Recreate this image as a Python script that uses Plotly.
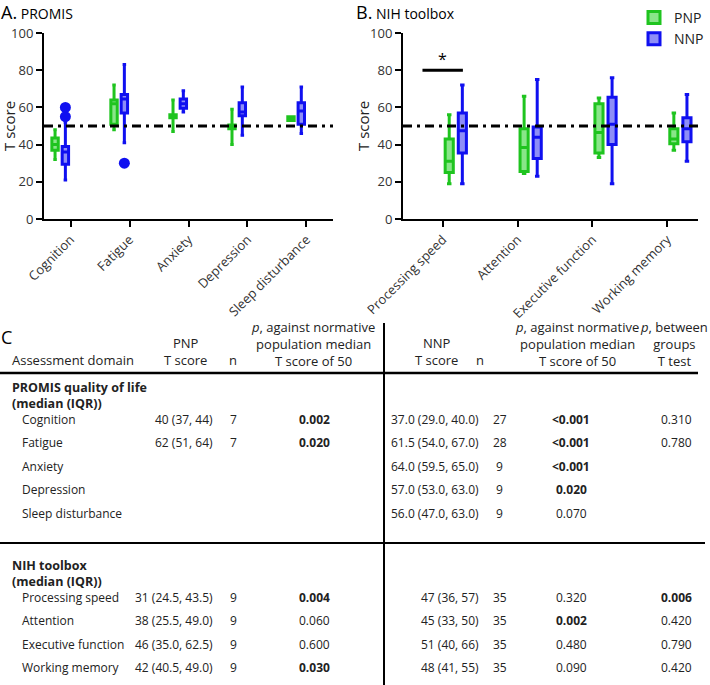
import plotly.graph_objects as go

W, H = 710, 685
FONT = "Open Sans"

# ---- panel A: PROMIS (box stats)
promis_domains = ["Cognition", "Fatigue", "Anxiety", "Depression", "Sleep disturbance"]
promis_pnp_low = [32, 48, 47, 40, 53]
promis_pnp_q1 = [37, 51, 54.5, 48.5, 53]
promis_pnp_med = [40, 62, 55, 49.5, 54]
promis_pnp_q3 = [43.5, 64, 56, 50.5, 55]
promis_pnp_high = [48, 72, 64, 59, 55]
promis_nnp_low = [21, 41, 57.5, 45, 46]
promis_nnp_q1 = [29.5, 57, 59.5, 55.5, 51]
promis_nnp_med = [36, 64.5, 62, 57.5, 58]
promis_nnp_q3 = [39, 67, 64.5, 62.5, 62.5]
promis_nnp_high = [52, 83, 69, 71, 71]
promis_nnp_outliers = [[60, 55], [30], [], [], []]

# ---- panel B: NIH toolbox
nih_domains = ["Processing speed", "Attention", "Executive function", "Working memory"]
nih_pnp_low = [19, 24.5, 33, 37]
nih_pnp_q1 = [25, 25.5, 35.5, 40.5]
nih_pnp_med = [31, 38.5, 46.5, 43]
nih_pnp_q3 = [43, 48.5, 62, 48.5]
nih_pnp_high = [56, 66, 65, 57]
nih_nnp_low = [19, 23, 19, 31]
nih_nnp_q1 = [35.5, 32.5, 40, 41.5]
nih_nnp_med = [47.5, 44, 51, 48.5]
nih_nnp_q3 = [57, 49.5, 65.5, 54.5]
nih_nnp_high = [72, 75, 76, 67]

norm_t = 50
sig_domain = "Processing speed"
sig_level = 80

# ---- panel C: table
section_titles = ["PROMIS quality of life<br>(median (IQR))", "NIH toolbox<br>(median (IQR))"]
table_domains = promis_domains + nih_domains
pnp_tscore = ["40 (37, 44)", "62 (51, 64)", "", "", "",
              "31 (24.5, 43.5)", "38 (25.5, 49.0)", "46 (35.0, 62.5)", "42 (40.5, 49.0)"]
pnp_n = ["7", "7", "", "", "", "9", "9", "9", "9"]
pnp_p = ["0.002", "0.020", "", "", "", "0.004", "0.060", "0.600", "0.030"]
nnp_tscore = ["37.0 (29.0, 40.0)", "61.5 (54.0, 67.0)", "64.0 (59.5, 65.0)", "57.0 (53.0, 63.0)",
              "56.0 (47.0, 63.0)", "47 (36, 57)", "45 (33, 50)", "51 (40, 66)", "48 (41, 55)"]
nnp_n = ["27", "28", "9", "9", "9", "35", "35", "35", "35"]
nnp_p = ["<0.001", "<0.001", "<0.001", "0.020", "0.070", "0.320", "0.002", "0.480", "0.090"]
between_p = ["0.310", "0.780", "", "", "", "0.006", "0.420", "0.790", "0.420"]

GREEN, GREEN_FILL = "#1fc41f", "rgba(40,210,40,0.55)"
BLUE, BLUE_FILL = "#1010f0", "rgba(30,30,240,0.5)"


def px(x):
    return x / W


def py(y):
    return 1 - y / H


fig = go.Figure()


def add_box(cats, low, q1, med, q3, high, name, line_c, fill_c, xa, ya, show, pts=None):
    fig.add_trace(go.Box(
        x=cats, q1=q1, median=med, q3=q3, lowerfence=low, upperfence=high,
        y=pts, boxpoints="outliers" if pts else False, pointpos=0, jitter=0,
        marker=dict(color=line_c, size=11, line=dict(width=0)),
        name=name, legendgroup=name, showlegend=show,
        line=dict(color=line_c, width=3), fillcolor=fill_c, whiskerwidth=0.55,
        xaxis=xa, yaxis=ya, hoverinfo="skip"))


add_box(promis_domains, promis_pnp_low, promis_pnp_q1, promis_pnp_med, promis_pnp_q3,
        promis_pnp_high, "PNP", GREEN, GREEN_FILL, "x", "y", False)
add_box(promis_domains, promis_nnp_low, promis_nnp_q1, promis_nnp_med, promis_nnp_q3,
        promis_nnp_high, "NNP", BLUE, BLUE_FILL, "x", "y", False, promis_nnp_outliers)
add_box(nih_domains, nih_pnp_low, nih_pnp_q1, nih_pnp_med, nih_pnp_q3,
        nih_pnp_high, "PNP", GREEN, GREEN_FILL, "x2", "y2", True)
add_box(nih_domains, nih_nnp_low, nih_nnp_q1, nih_nnp_med, nih_nnp_q3,
        nih_nnp_high, "NNP", BLUE, BLUE_FILL, "x2", "y2", True)

axis_common = dict(showline=True, linecolor="black", linewidth=2, ticks="outside",
                   ticklen=6, tickwidth=2, tickcolor="black", showgrid=False,
                   zeroline=False, automargin=False,
                   tickfont=dict(family=FONT, size=13, color="#333"))
ydom = [py(219), py(33)]
fig.update_layout(
    width=W, height=H, margin=dict(l=0, r=0, t=0, b=0, pad=0, autoexpand=False),
    paper_bgcolor="white", plot_bgcolor="white",
    boxmode="group", boxgap=0.3, boxgroupgap=0.38,
    font=dict(family=FONT, color="#222"),
    xaxis=dict(domain=[px(44), px(333)], anchor="y", type="category", tickangle=-45,
               range=[-0.45, 4.45], **axis_common),
    yaxis=dict(domain=ydom, anchor="x", range=[0, 100], dtick=20, **axis_common),
    xaxis2=dict(domain=[px(403), px(698)], anchor="y2", type="category", tickangle=-45,
                range=[-0.53, 3.41], **axis_common),
    yaxis2=dict(domain=ydom, anchor="x2", range=[0, 100], dtick=20, **axis_common),
    legend=dict(x=px(634), y=py(2), xanchor="left", yanchor="top", tracegroupgap=0,
                font=dict(family=FONT, size=14, color="#222"), bgcolor="rgba(0,0,0,0)",
                itemwidth=30),
)

# normative median line
for xr, yr in (("x domain", "y"), ("x2 domain", "y2")):
    fig.add_shape(type="line", xref=xr, yref=yr, x0=0, x1=1, y0=norm_t, y1=norm_t,
                  line=dict(color="black", width=3, dash="9px,5px,3px,5px"))

# significance bar
sig_i = nih_domains.index(sig_domain)
fig.add_shape(type="line", xref="x2", yref="y2", x0=sig_i - 0.27, x1=sig_i + 0.27,
              y0=sig_level, y1=sig_level, line=dict(color="black", width=3))
fig.add_annotation(x=sig_domain, y=sig_level, xref="x2", yref="y2", text="*", showarrow=False,
                   yanchor="bottom", yshift=-2, font=dict(size=16, color="black"))


def txt(x, y, s, anchor="center", bold=False, size=12, color="#222", angle=0):
    if bold:
        s = f"<b>{s}</b>"
    fig.add_annotation(x=px(x), y=py(y), xref="paper", yref="paper", text=s, showarrow=False,
                       xanchor=anchor, yanchor="middle", textangle=angle, align=anchor,
                       borderpad=0, borderwidth=0,
                       font=dict(family=FONT, size=size, color=color))


# panel titles and axis titles
for x0, main, sub in ((1, "A.", "PROMIS"), (356, "B.", "NIH toolbox")):
    txt(x0, 12, f"{main}<span style='font-size:14px'> {sub}</span>", anchor="left",
        size=18, color="black")
for xt in (9, 363):
    txt(xt, 126, "T score", size=15, angle=-90)

# ---- table
HS = 13


def is_sig(p):
    return p != "" and float(p.lstrip("<")) < 0.05


txt(1, 337, "C", anchor="left", size=18, color="black")
header_cols = [
    (12, "left", ["Assessment domain"]),
    (185, "center", ["PNP", "T score"]), (233, "center", ["n"]),
    (313, "center", ["<i>p</i>, against normative", "population median", "T score of 50"]),
    (437, "center", ["NNP", "T score"]), (480, "center", ["n"]),
    (577, "center", ["<i>p</i>, against normative", "population median", "T score of 50"]),
    (674, "center", ["<i>p</i>, between", "groups", "T test"]),
]
for xc, anchor, lines in header_cols:
    # centre of the block so that its last line sits on the header baseline row
    txt(xc, 360 - 8.1 * (len(lines) - 1), "<br>".join(lines), anchor=anchor, size=HS)

fig.add_shape(type="line", xref="paper", yref="paper", x0=px(0), x1=px(698), y0=py(373), y1=py(373),
              line=dict(color="black", width=2.5))
fig.add_shape(type="line", xref="paper", yref="paper", x0=px(0), x1=px(705), y0=py(543), y1=py(543),
              line=dict(color="black", width=2))
fig.add_shape(type="line", xref="paper", yref="paper", x0=px(384), x1=px(384), y0=py(323), y1=py(H),
              line=dict(color="black", width=2))

row_y = []
sections = [(419, len(promis_domains)), (597, len(nih_domains))]
for (first, count), title in zip(sections, section_titles):
    txt(12, first - 24, title, anchor="left", bold=True, size=12.5)
    row_y += [first + 23.6 * k for k in range(count)]

for i, y in enumerate(row_y):
    txt(22, y, table_domains[i], anchor="left")
    txt(213, y, pnp_tscore[i], anchor="right")
    txt(233, y, pnp_n[i])
    txt(314, y, pnp_p[i], bold=is_sig(pnp_p[i]))
    txt(479, y, nnp_tscore[i], anchor="right")
    txt(500, y, nnp_n[i])
    txt(571, y, nnp_p[i], bold=is_sig(nnp_p[i]))
    txt(676, y, between_p[i], bold=is_sig(between_p[i]))

# the page body has a default 8px margin; drop it so the figure sits at the window origin
fig.write_html("out.html", config={"displayModeBar": False},
               post_script="document.body.style.margin='0';")
